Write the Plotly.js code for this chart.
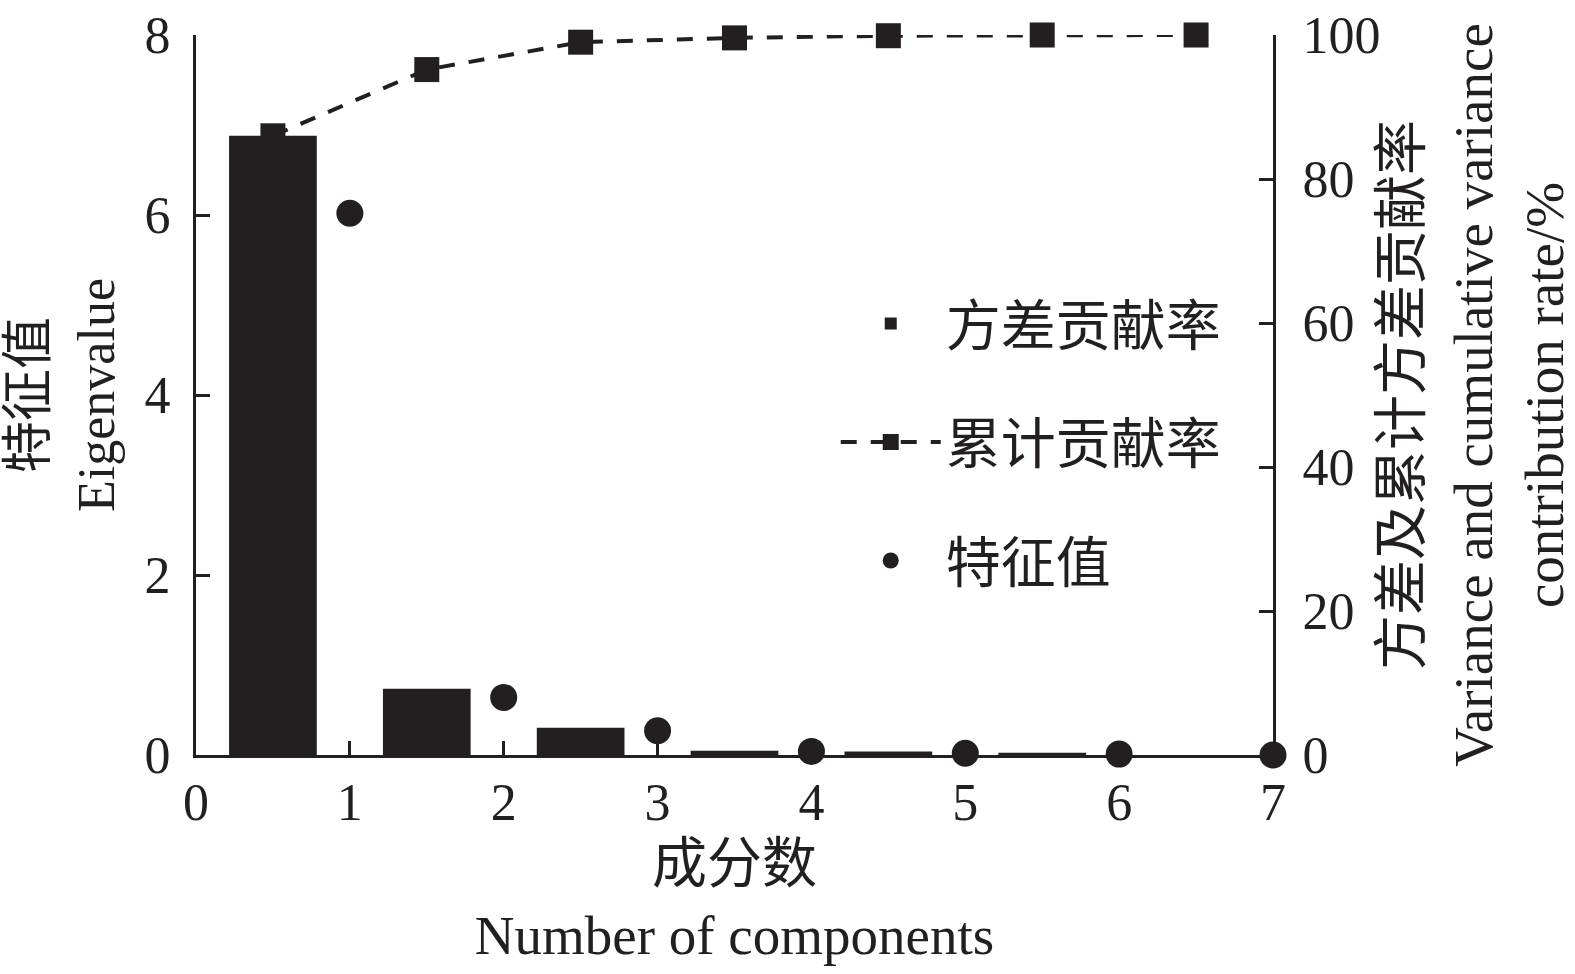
<!DOCTYPE html>
<html>
<head>
<meta charset="utf-8">
<script src="https://cdn.plot.ly/plotly-3.0.1.min.js"></script>
<style>
html,body{margin:0;padding:0;background:#fff;}
#chart{width:1575px;height:974px;}
</style>
</head>
<body>
<div id="chart"></div>
<script>
// Data
const barPositions = [0.5, 1.5, 2.5, 3.5, 4.5, 5.5, 6.5];
const varianceRate = [86.0, 9.2, 3.8, 0.6, 0.5, 0.3, 0.0];
const cumulativeRate = [86.0, 95.2, 99.0, 99.6, 99.9, 100.0, 100.0];
const componentNumbers = [1, 2, 3, 4, 5, 6, 7];
const eigenvalues = [6.02, 0.64, 0.27, 0.04, 0.02, 0.01, 0.00];

const legendNames = ['方差贡献率', '累计贡献率', '特征值'];
const xTitle = '成分数<br>Number of components';
const yTitle = '特征值<br>Eigenvalue';
const y2Title = '方差及累计方差贡献率<br>Variance and cumulative variance<br>contribution rate/%';

const ink = '#231f20';
const fontFam = '"Liberation Serif", "Times New Roman", "Noto Sans CJK SC", serif';

const traces = [
  {
    type: 'bar', x: barPositions, y: varianceRate, yaxis: 'y2',
    name: legendNames[0], legendgroup: 'a',
    width: 0.57, marker: {color: ink, line: {width: 0}}
  },
  {
    type: 'scatter', mode: 'lines+markers', x: barPositions, y: cumulativeRate, yaxis: 'y2',
    name: legendNames[1], legendgroup: 'b',
    line: {color: ink, width: 4, dash: '16px,14px'},
    marker: {symbol: 'square', size: 25, color: ink},
    cliponaxis: false
  },
  {
    type: 'scatter', mode: 'markers', x: componentNumbers, y: eigenvalues, yaxis: 'y',
    name: legendNames[2], legendgroup: 'c',
    marker: {symbol: 'circle', size: 27, color: ink},
    cliponaxis: false
  }
];

const tickFont = {family: fontFam, size: 52, color: ink};

const layout = {
  width: 1575, height: 974,
  margin: {l: 196, r: 302, t: 35, b: 219},
  paper_bgcolor: '#fff', plot_bgcolor: '#fff',
  font: {family: fontFam, color: ink},
  showlegend: true,
  legend: {
    x: 0.594, y: 0.658, xanchor: 'left', yanchor: 'top',
    bgcolor: 'rgba(0,0,0,0)', borderwidth: 0,
    font: {family: fontFam, size: 55, color: ink},
    traceorder: 'grouped', tracegroupgap: 44, itemwidth: 100
  },
  xaxis: {
    range: [0, 7], dtick: 1, tick0: 0,
    showgrid: false, zeroline: false,
    showline: true, linecolor: ink, linewidth: 3,
    ticks: 'inside', ticklen: 14, tickwidth: 3, tickcolor: ink,
    tickfont: tickFont, layer: 'below traces', ticklabelstandoff: 0,
    title: {text: xTitle, font: {family: fontFam, size: 55, color: ink}, standoff: 14}
  },
  yaxis: {
    range: [0, 8], dtick: 2, tick0: 0,
    showgrid: false, zeroline: false,
    showline: true, linecolor: ink, linewidth: 3,
    ticks: 'inside', ticklen: 14, tickwidth: 3, tickcolor: ink,
    tickfont: tickFont, layer: 'below traces', ticklabelstandoff: 12,
    title: {text: yTitle, font: {family: fontFam, size: 52, color: ink}, standoff: 20}
  },
  yaxis2: {
    range: [0, 100], dtick: 20, tick0: 0,
    overlaying: 'y', side: 'right', anchor: 'x',
    showgrid: false, zeroline: false,
    showline: true, linecolor: ink, linewidth: 3,
    ticks: 'inside', ticklen: 14, tickwidth: 3, tickcolor: ink,
    tickfont: tickFont, layer: 'below traces', ticklabelstandoff: 16,
    title: {text: y2Title, font: {family: fontFam, size: 55, color: ink}, standoff: 14}
  }
};

Plotly.newPlot('chart', traces, layout, {displayModeBar: false, staticPlot: true});
</script>
</body>
</html>
